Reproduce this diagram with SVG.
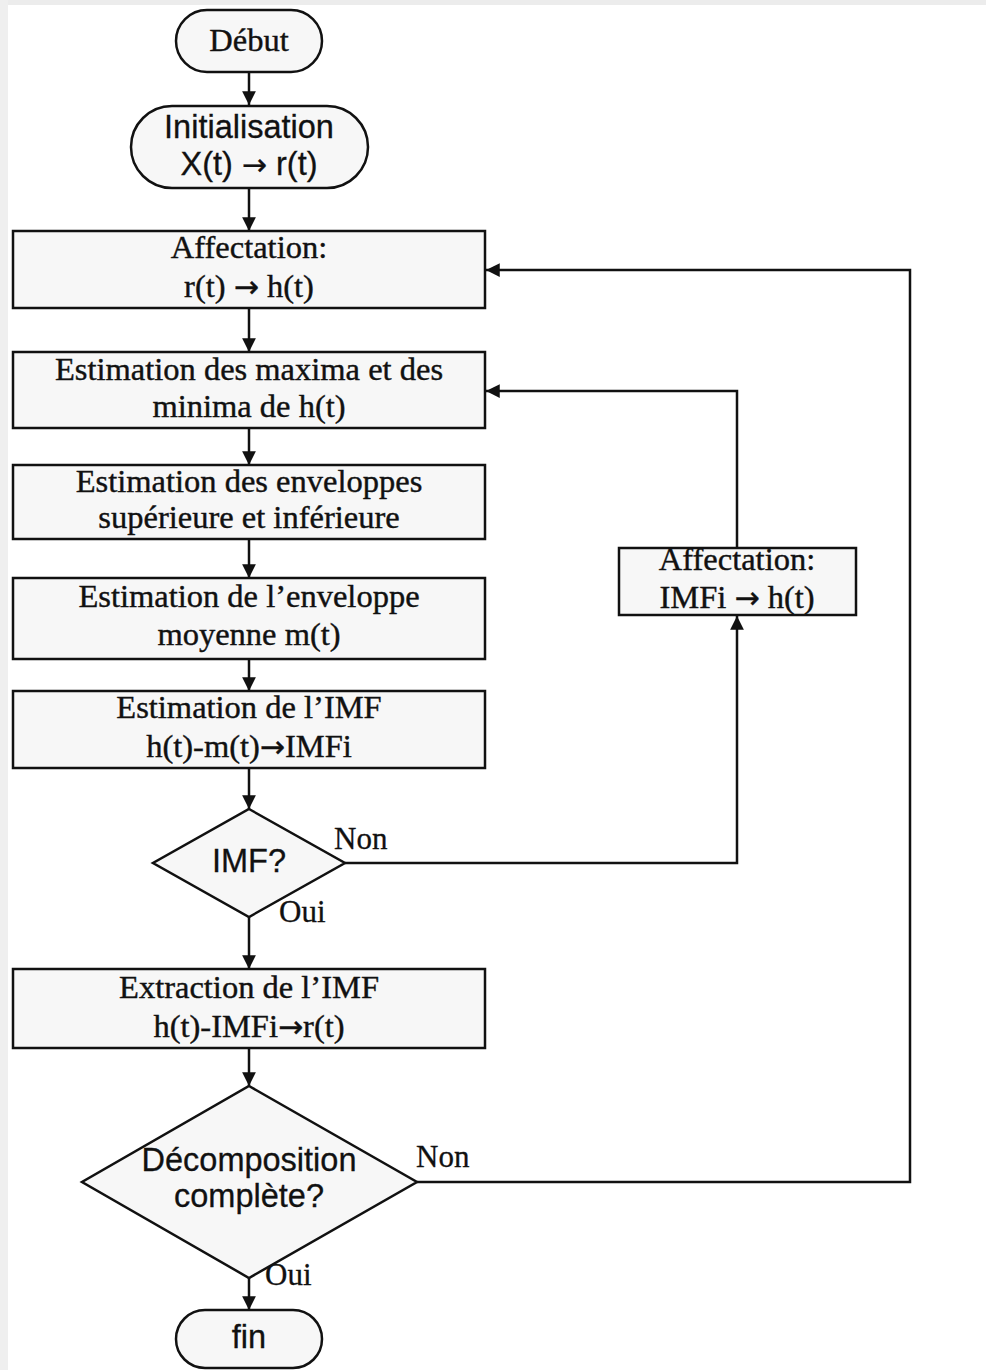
<svg xmlns="http://www.w3.org/2000/svg" width="986" height="1370" viewBox="0 0 986 1370">
<style>
.shape{fill:#f7f7f7;stroke:#111;stroke-width:2.5}
.serif{font-family:"Liberation Serif","Times New Roman",serif;font-size:32.5px;fill:#111;stroke:#111;stroke-width:0.4;text-anchor:middle}
.sans{font-family:"Liberation Sans",Arial,sans-serif;font-size:32.5px;fill:#111;stroke:#111;stroke-width:0.3;text-anchor:middle}
.lbl{font-family:"Liberation Serif","Times New Roman",serif;font-size:31px;fill:#111;stroke:#111;stroke-width:0.3}
.ar{font-family:"DejaVu Sans",sans-serif;font-size:30px}
.conn{fill:none;stroke:#111;stroke-width:2.5}
</style>
<defs>
<marker id="arr" viewBox="0 0 10 10" refX="10" refY="5" markerWidth="6" markerHeight="5.5" orient="auto" markerUnits="strokeWidth">
<path d="M0,0 L10,5 L0,10 Z" fill="#111"/>
</marker>
</defs>
<rect x="0" y="0" width="986" height="1370" fill="#ffffff"/>
<rect x="0" y="0" width="986" height="5" fill="#ececec"/>
<rect x="0" y="0" width="8" height="1370" fill="#efefef"/>

<g id="connectors">
<line class="conn" x1="249" y1="72" x2="249" y2="105" marker-end="url(#arr)"/>
<line class="conn" x1="249" y1="188" x2="249" y2="231" marker-end="url(#arr)"/>
<line class="conn" x1="249" y1="308" x2="249" y2="352" marker-end="url(#arr)"/>
<line class="conn" x1="249" y1="428" x2="249" y2="465" marker-end="url(#arr)"/>
<line class="conn" x1="249" y1="539" x2="249" y2="578" marker-end="url(#arr)"/>
<line class="conn" x1="249" y1="659" x2="249" y2="691" marker-end="url(#arr)"/>
<line class="conn" x1="249" y1="768" x2="249" y2="809" marker-end="url(#arr)"/>
<line class="conn" x1="249" y1="917" x2="249" y2="969" marker-end="url(#arr)"/>
<line class="conn" x1="249" y1="1048" x2="249" y2="1086" marker-end="url(#arr)"/>
<line class="conn" x1="249" y1="1278" x2="249" y2="1310" marker-end="url(#arr)"/>
<polyline class="conn" points="345,863 737,863 737,616" marker-end="url(#arr)"/>
<polyline class="conn" points="737,548 737,391 486,391" marker-end="url(#arr)"/>
<polyline class="conn" points="417,1182 910,1182 910,270 486,270" marker-end="url(#arr)"/>
<text class="lbl" x="334" y="849">Non</text>
<text class="lbl" x="279" y="922">Oui</text>
<text class="lbl" x="416" y="1167">Non</text>
<text class="lbl" x="265" y="1285">Oui</text>
</g>

<g id="debut">
<rect class="shape" x="176" y="10" width="146" height="62" rx="31"/>
<text class="serif" x="249" y="51">Début</text>
</g>
<g id="init">
<rect class="shape" x="131" y="106" width="237" height="82" rx="41"/>
<text class="sans" x="249" y="138">Initialisation</text>
<text class="sans" x="249" y="175">X(t) <tspan class="ar">→</tspan> r(t)</text>
</g>
<g id="affect1">
<rect class="shape" x="13" y="231" width="472" height="77"/>
<text class="serif" x="249" y="258">Affectation:</text>
<text class="serif" x="249" y="297">r(t) <tspan class="ar">→</tspan> h(t)</text>
</g>
<g id="maxmin">
<rect class="shape" x="13" y="352" width="472" height="76"/>
<text class="serif" x="249" y="380">Estimation des maxima et des</text>
<text class="serif" x="249" y="417">minima de h(t)</text>
</g>
<g id="env">
<rect class="shape" x="13" y="465" width="472" height="74"/>
<text class="serif" x="249" y="492">Estimation des enveloppes</text>
<text class="serif" x="249" y="528">supérieure et inférieure</text>
</g>
<g id="moy">
<rect class="shape" x="13" y="578" width="472" height="81"/>
<text class="serif" x="249" y="607">Estimation de l’enveloppe</text>
<text class="serif" x="249" y="645">moyenne m(t)</text>
</g>
<g id="estimf">
<rect class="shape" x="13" y="691" width="472" height="77"/>
<text class="serif" x="249" y="718">Estimation de l’IMF</text>
<text class="serif" x="249" y="757">h(t)-m(t)<tspan class="ar">→</tspan>IMFi</text>
</g>
<g id="isimf">
<polygon class="shape" points="249,809 345,863 249,917 153,863"/>
<text class="sans" x="249" y="872">IMF?</text>
</g>
<g id="affect2">
<rect class="shape" x="619" y="548" width="237" height="67"/>
<text class="serif" x="737" y="570">Affectation:</text>
<text class="serif" x="737" y="608">IMFi <tspan class="ar">→</tspan> h(t)</text>
</g>
<g id="extract">
<rect class="shape" x="13" y="969" width="472" height="79"/>
<text class="serif" x="249" y="998">Extraction de l’IMF</text>
<text class="serif" x="249" y="1037">h(t)-IMFi<tspan class="ar">→</tspan>r(t)</text>
</g>
<g id="decomp">
<polygon class="shape" points="249,1086 417,1182 249,1278 82,1182"/>
<text class="sans" x="249" y="1171">Décomposition</text>
<text class="sans" x="249" y="1207">complète?</text>
</g>
<g id="fin">
<rect class="shape" x="176" y="1310" width="146" height="58" rx="29"/>
<text class="sans" x="249" y="1348">fin</text>
</g>
</svg>
